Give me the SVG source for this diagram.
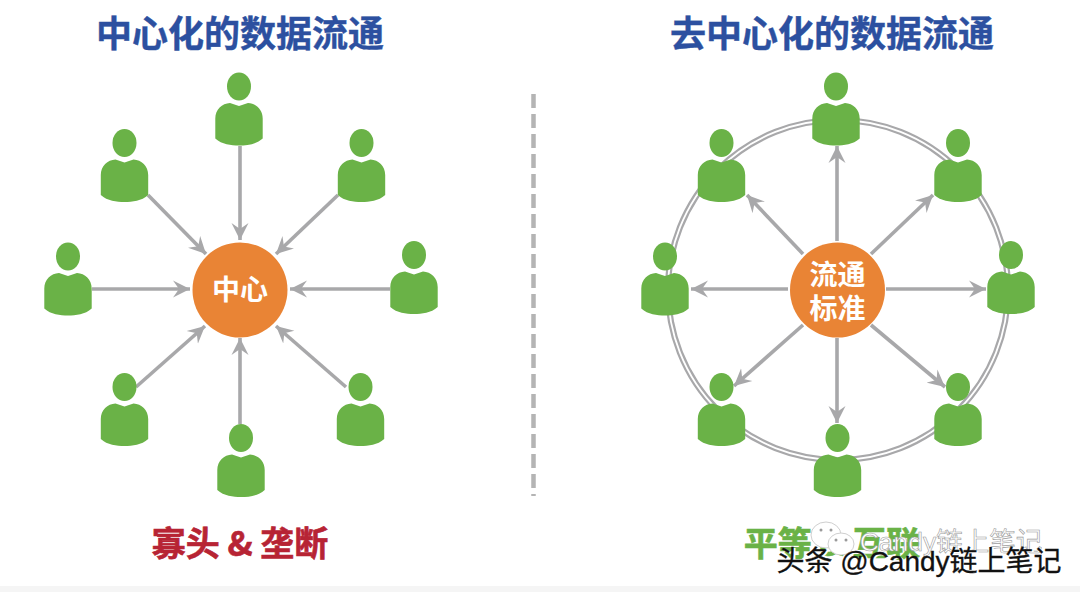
<svg xmlns="http://www.w3.org/2000/svg" xmlns:xlink="http://www.w3.org/1999/xlink" width="1080" height="592" viewBox="0 0 1080 592">
<style>
text{font-family:"Noto Sans CJK SC","Liberation Sans",sans-serif;text-anchor:middle}
.title{font-size:36px;font-weight:700;fill:#2c50a0;stroke:#2c50a0;stroke-width:.4}
.hub{fill:#e98435}
.hubt{font-size:28px;font-weight:700;fill:#fff}
.p{fill:#6ab247}
.c{stroke:#a8a8aa;stroke-width:3.6;fill:none;marker-end:url(#a)}
.ring{fill:none;stroke:#a8a8aa;stroke-width:2.2}
.sl{font-size:34px;font-weight:700;stroke-width:.6}
.wm{font-family:"Liberation Sans","Noto Sans CJK SC",sans-serif}
</style>
<defs>
<marker id="a" viewBox="0 0 18 18" refX="17" refY="9" markerWidth="18" markerHeight="18" markerUnits="userSpaceOnUse" orient="auto"><path d="M0,0.500 L17,9 L0,17.500 L6,9 Z" fill="#a8a8aa"/></marker>
<g id="u"><ellipse cx="0" cy="0" rx="12" ry="14" class="p"/><path class="p" d="M0,19.500 L-9,16.500 C-17,17 -23.700,23 -23.700,32 L-23.700,52 C-17,58 -8,59 0,59 C8,59 17,58 23.700,52 L23.700,32 C23.700,23 17,17 9,16.500 Z"/></g>
</defs>
<rect width="1080" height="592" fill="#fff"/>
<rect y="586" width="1080" height="6" fill="#f5f5f5"/>
<text class="title" x="240" y="47">中心化的数据流通</text>
<text class="title" x="832" y="47">去中心化的数据流通</text>
<line x1="533.500" y1="94" x2="533.500" y2="496" stroke="#b4b4b4" stroke-width="4.500" stroke-dasharray="14 6"/>
<g id="rings"><ellipse class="ring" cx="838" cy="290" rx="168" ry="168"/><ellipse class="ring" cx="838" cy="290" rx="172" ry="172"/></g>
<g id="connectors">
<path class="c" d="M240,146 V240"/><path class="c" d="M148,195 L206,254"/><path class="c" d="M338,195 L276,254"/><path class="c" d="M92,289 H190"/><path class="c" d="M390,289 H290"/><path class="c" d="M136,387 L205,326"/><path class="c" d="M346,387 L276,326"/><path class="c" d="M240,424 V338"/>
<path class="c" d="M837,241 V146"/><path class="c" d="M803,254 L747,195"/><path class="c" d="M871,254 L933,195"/><path class="c" d="M788,289 H691"/><path class="c" d="M886,289 H986"/><path class="c" d="M803,325 L734,386"/><path class="c" d="M871,325 L945,387"/><path class="c" d="M837,338 V423"/>
</g>
<use id="n1" xlink:href="#u" x="239" y="86.500"/><use id="n2" xlink:href="#u" x="124.500" y="143"/><use id="n3" xlink:href="#u" x="361.500" y="143"/><use id="n4" xlink:href="#u" x="68" y="256.500"/><use id="n5" xlink:href="#u" x="414" y="255"/><use id="n6" xlink:href="#u" x="124.500" y="387"/><use id="n7" xlink:href="#u" x="360.500" y="387"/><use id="n8" xlink:href="#u" x="241" y="438"/>
<use id="m1" xlink:href="#u" x="836" y="86.500"/><use id="m2" xlink:href="#u" x="721.500" y="143"/><use id="m3" xlink:href="#u" x="958" y="143"/><use id="m4" xlink:href="#u" x="665" y="256.500"/><use id="m5" xlink:href="#u" x="1011" y="255"/><use id="m6" xlink:href="#u" x="721.500" y="387"/><use id="m7" xlink:href="#u" x="958" y="387"/><use id="m8" xlink:href="#u" x="837.500" y="438"/>
<g id="hub1"><circle class="hub" cx="240" cy="290" r="47.500"/><text class="hubt" x="240" y="300">中心</text></g>
<g id="hub2"><circle class="hub" cx="837.500" cy="290" r="47.500"/><text class="hubt" x="837.500" y="285">流通</text><text class="hubt" x="837.500" y="319">标准</text></g>
<text class="sl" x="240" y="556" fill="#b72434" stroke="#b72434">寡头 &amp; 垄断</text>
<text class="sl" x="832" y="556" fill="#6ab247" stroke="#6ab247">平等 &amp; 互联</text>
<g id="wm"><g fill="#fff" stroke="#cfcfcf"><ellipse cx="826" cy="535" rx="15" ry="13"/><ellipse cx="841" cy="544" rx="13" ry="11"/></g><g fill="#9a9a9a"><circle cx="821" cy="530" r="1.500"/><circle cx="831" cy="530" r="1.500"/><circle cx="836" cy="540" r="1.500"/><circle cx="846" cy="540" r="1.500"/></g></g>
<text class="wm" x="951" y="551" font-size="26.500" fill="#fff" stroke="#999" stroke-width=".6">Candy链上笔记</text>
<text class="wm" x="920" y="571" font-size="28" fill="#fff" transform="translate(1 1)">头条 @Candy链上笔记</text>
<text class="wm" x="919" y="571" font-size="28" fill="#111" stroke="#111" stroke-width=".3">头条 @Candy链上笔记</text>
</svg>
